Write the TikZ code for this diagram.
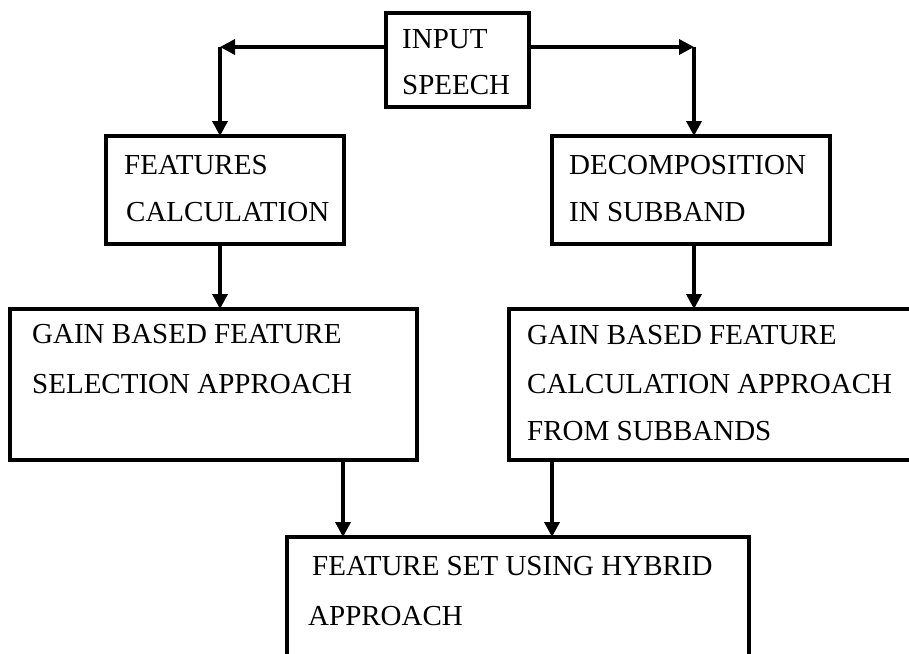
\documentclass[tikz,border=0pt]{standalone}
\usepackage{fontspec}
\setmainfont{Liberation Serif}
\usetikzlibrary{arrows.meta,calc}
\begin{document}
\begin{tikzpicture}[x=1pt,y=-1pt,
  box/.style={draw,line width=3.5pt,rectangle,inner sep=0pt,outer sep=0pt},
  lbl/.style={anchor=base west,inner sep=0pt,font=\fontsize{29}{35}\selectfont},
  arr/.style={line width=3.5pt,-{Triangle[width=15pt,length=15pt]}},
  seg/.style={line width=3.5pt}]
\useasboundingbox (0,0) rectangle (909,653);
\clip (0,0) rectangle (909,653);

% boxes
\node[box,minimum width=143pt,minimum height=94pt] (in) at (457.5,60) {};
\node[box,minimum width=238pt,minimum height=108pt] (f) at (225,190) {};
\node[box,minimum width=278pt,minimum height=108pt] (d) at (691,190) {};
\node[box,minimum width=407pt,minimum height=151pt] (g1) at (213.5,384.5) {};
\node[box,minimum width=431pt,minimum height=151pt] (g2) at (724.5,384.5) {};
\node[box,minimum width=462pt,minimum height=163pt] (h) at (518,618.5) {};

% labels
\node[lbl] (t1) at (402,48) {INPUT};
\node[lbl] (t2) at (402,94) {SPEECH};
\node[lbl] (t3) at (124,174) {FEATURES};
\node[lbl] (t4) at (126,221) {CALCULATION};
\node[lbl] (t5) at (569,174) {DECOMPOSITION};
\node[lbl] (t6) at (569,221) {IN SUBBAND};
\node[lbl] (t7) at (32,343) {GAIN BASED FEATURE};
\node[lbl] (t8) at (32,393) {SELECTION APPROACH};
\node[lbl] (t9) at (527,344) {GAIN BASED FEATURE};
\node[lbl] (t10) at (527,393) {CALCULATION APPROACH};
\node[lbl] (t11) at (527,440) {FROM SUBBANDS};
\node[lbl] (t12) at (312,575) {FEATURE SET USING HYBRID};
\node[lbl] (t13) at (308,625) {APPROACH};

% branch points
\coordinate (cL) at (220,47);
\coordinate (cR) at (694,47);
\coordinate (cA) at (343,0);
\coordinate (cB) at (552,0);

% connectors
\draw[arr] (cL -| in.west) -- (cL);
\draw[arr] (cL) -- (cL |- f.north);
\draw[arr] (cR -| in.east) -- (cR);
\draw[arr] (cR) -- (cR |- d.north);
\draw[arr] (cL |- f.south) -- (cL |- g1.north);
\draw[arr] (cR |- d.south) -- (cR |- g2.north);
\draw[arr] (cA |- g1.south) -- (cA |- h.north);
\draw[arr] (cB |- g2.south) -- (cB |- h.north);
\end{tikzpicture}
\end{document}
